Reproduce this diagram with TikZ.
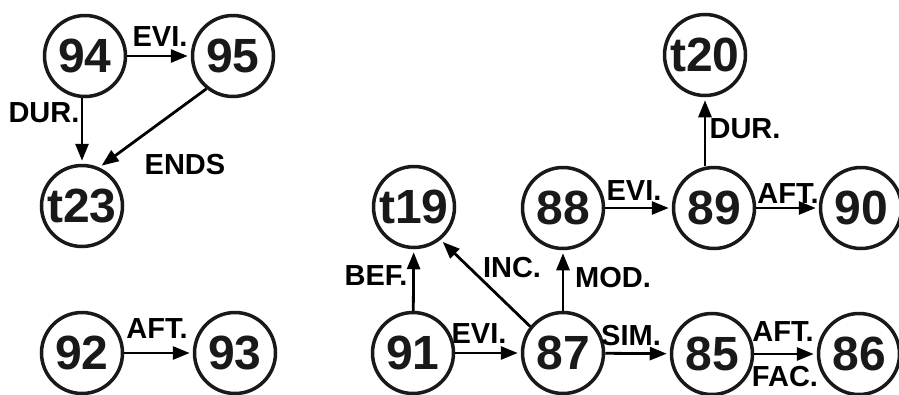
\documentclass[tikz,border=0pt]{standalone}
\usepackage{fontspec}
\setmainfont{Liberation Sans}
\usetikzlibrary{arrows.meta}
\begin{document}
\begin{tikzpicture}[x=1pt,y=-1pt,
  ev/.style={circle, draw=black!90, line width=3.5pt, minimum size=81pt, inner sep=0pt,
    font=\fontsize{48}{48}\selectfont\bfseries, text=black!90},
  lbl/.style={font=\fontsize{29}{29}\selectfont\bfseries, inner sep=0pt, text=black},
  arr/.style={line width=2.8pt, -{Triangle[length=17pt,width=13pt]}, shorten >=3pt}]
\useasboundingbox (0,0) rectangle (899,394);

% event and time nodes
\node[ev] (n94) at (85,56) {94};
\node[ev] (n95) at (233,56) {95};
\node[ev] (t23) at (82,206) {t23};
\node[ev] (n92) at (82,353) {92};
\node[ev] (n93) at (235,353) {93};
\node[ev] (t20) at (705,55) {t20};
\node[ev] (t19) at (414,207) {t19};
\node[ev] (n88) at (563,208) {88};
\node[ev] (n89) at (714,208) {89};
\node[ev] (n90) at (861,208) {90};
\node[ev] (n91) at (413,353) {91};
\node[ev] (n87) at (563,353) {87};
\node[ev] (n85) at (712,354) {85};
\node[ev] (n86) at (859,354) {86};

% relations
\draw[arr] (n94) -- (n95);
\draw[arr] (n94.south -| t23) -- (t23);
\draw[arr] (n95.231) -- (t23.66);
\draw[arr] (n92) -- (n93);
\draw[arr] (n91) -- (t19);
\draw[arr] (n91) -- (n87);
\draw[arr] (n87.141) -- (t19.309);
\draw[arr] (n87) -- (n88);
\draw[arr] (n87) -- (n85);
\draw[arr] (n85) -- (n86);
\draw[arr] (n88) -- (n89);
\draw[arr] (n89) -- (n90);
\draw[arr] (n89.north -| t20) -- (t20);

% relation labels
\node[lbl] (l1) at (160,37) {EVI.};
\node[lbl] (l2) at (44,113) {DUR.};
\node[lbl] (l3) at (185,165) {ENDS};
\node[lbl] (l4) at (157,329) {AFT.};
\node[lbl] (l5) at (376,276) {BEF.};
\node[lbl] (l6) at (479,334) {EVI.};
\node[lbl] (l7) at (512,268) {INC.};
\node[lbl] (l8) at (613,278) {MOD.};
\node[lbl] (l9) at (631,336) {SIM.};
\node[lbl] (l10) at (783,332) {AFT.};
\node[lbl] (l11) at (785,377) {FAC.};
\node[lbl] (l12) at (634,191) {EVI.};
\node[lbl] (l13) at (788,194) {AFT.};
\node[lbl] (l14) at (745,129) {DUR.};
\end{tikzpicture}
\end{document}
